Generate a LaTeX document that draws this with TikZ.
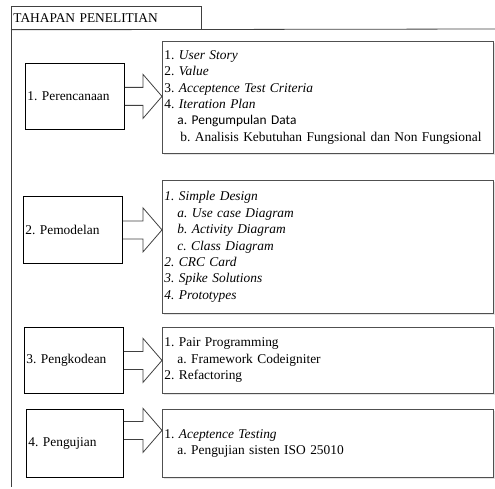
\documentclass[tikz,border=0pt]{standalone}
\usepackage{fontspec}
\setmainfont{Liberation Serif}
\newfontfamily\calibri{Carlito}
\usetikzlibrary{calc}
\usetikzlibrary{shadows}
\frenchspacing

\definecolor{framegray}{HTML}{404040}
\definecolor{listgray}{HTML}{505050}

\tikzset{
    stagebox/.style={draw=black, thick, anchor=north west, inner sep=2pt,
        text width=#1, align=left, minimum height=66pt},
    listbox/.style={draw=listgray, thick, fill=white, anchor=north west, inner sep=2pt,
        text width=327pt, align=left,
        drop shadow={shadow xshift=1.2pt, shadow yshift=-1.2pt, fill=black!20}},
    blockarrow/.style={draw=framegray, thick, line join=miter},
}
\newcommand{\sub}{\hspace*{13pt}}

\begin{document}
\begin{tikzpicture}[x=1pt, y=-1pt, font=\fontsize{13.4}{16.4}\selectfont]
    \useasboundingbox (0,0) rectangle (495,489);
    \clip (0,0) rectangle (495,489);

    % frame with title tab
    \node[draw=framegray, thick, anchor=north west, inner sep=2pt, text width=186pt,
        align=left, minimum height=23pt] (title) at (11,6) {TAHAPAN PENELITIAN};
    \draw[framegray, thick] (title.south west) -- (500,29);
    \draw[framegray, thick] (title.south west) -- (11,487);

    % stages
    \node[stagebox=95pt] (p1) at (25,63) {1. Perencanaan};
    \node[stagebox=95pt, minimum height=67pt] (p2) at (23,196) {2. Pemodelan};
    \node[stagebox=95pt] (p3) at (24,327) {3. Pengkodean};
    \node[stagebox=93pt, minimum height=68pt] (p4) at (26,409) {4. Pengujian};

    % lists
    \node[listbox, minimum height=112pt] (t1) at (162,41) {%
        1. \textit{User Story}\\
        2. \textit{Value}\\
        3. \textit{Acceptence Test Criteria}\\
        4. \textit{Iteration Plan}\\
        \sub{\calibri a. Pengumpulan Data}\\
        \sub\hspace*{3pt}b. Analisis Kebutuhan Fungsional dan Non Fungsional};
    \node[listbox, minimum height=133pt] (t2) at (162,180) {%
        \textit{1. Simple Design}\\
        \sub\textit{a. Use case Diagram}\\
        \sub\textit{b. Activity Diagram}\\
        \sub\textit{c. Class Diagram}\\
        \textit{2. CRC Card}\\
        \textit{3. Spike Solutions}\\
        \textit{4. Prototypes}};
    \node[listbox, minimum height=66pt] (t3) at (162,327) {%
        1. Pair Programming\\
        \sub a. Framework Codeigniter\\
        2. Refactoring};
    \node[listbox, minimum height=68pt] (t4) at (162,409) {%
        1. \textit{Aceptence Testing}\\
        \sub a. Pengujian sisten ISO 25010};

    % block arrows
    \foreach \i/\dy in {1/0,2/0,3/0,4/-13} {
        \coordinate (a\i) at ($(p\i.east)+(0,\dy)$);
        \coordinate (tip\i) at (t\i.west |- a\i);
        \draw[blockarrow] ($(a\i)+(0,-9)$) -- ($(tip\i)+(-19,-9)$) -- ($(tip\i)+(-19,-22)$)
            -- (tip\i) -- ($(tip\i)+(-19,22)$) -- ($(tip\i)+(-19,9)$) -- ($(a\i)+(0,9)$);
    }
\end{tikzpicture}
\end{document}
